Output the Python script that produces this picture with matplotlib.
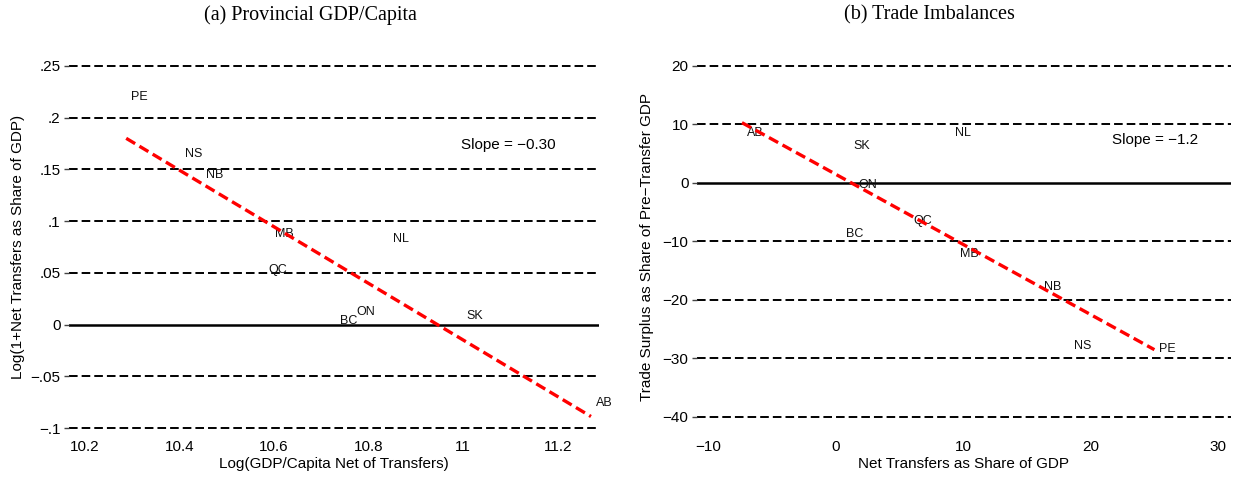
import numpy as np
import matplotlib
matplotlib.use("Agg")
import matplotlib.pyplot as plt

plt.rcParams['font.family'] = ['Liberation Sans', 'DejaVu Sans']
plt.rcParams['lines.scale_dashes'] = False

# provinces and values
prov_a = ['PE', 'NS', 'NB', 'MB', 'NL', 'QC', 'BC', 'ON', 'SK', 'AB']
gdp_a = [10.287, 10.401, 10.446, 10.591, 10.841, 10.577, 10.729, 10.764, 10.997, 11.270]
transfers_a = [0.220, 0.165, 0.145, 0.088, 0.083, 0.053, 0.003, 0.012, 0.008, -0.076]
fit_a = (-0.2735, 2.9935)   # slope, intercept of the fitted line

prov_b = ['AB', 'SK', 'NL', 'ON', 'QC', 'BC', 'MB', 'NB', 'NS', 'PE']
transfers_b = [-7.33, 1.03, 8.98, 1.40, 5.73, 0.43, 9.37, 15.93, 18.34, 25.0]
surplus_b = [8.6, 6.25, 8.6, -0.3, -6.55, -8.7, -12.1, -17.8, -27.8, -28.3]
fit_b = (-1.2, 1.5)

yticks_a = [-0.1, -0.05, 0, 0.05, 0.1, 0.15, 0.2, 0.25]
ylabels_a = ['\u2212.1', '\u2212.05', '0', '.05', '.1', '.15', '.2', '.25']
xticks_a = [10.2, 10.4, 10.6, 10.8, 11, 11.2]
xlabels_a = ['10.2', '10.4', '10.6', '10.8', '11', '11.2']

yticks_b = [-40, -30, -20, -10, 0, 10, 20]
ylabels_b = ['\u221240', '\u221230', '\u221220', '\u221210', '0', '10', '20']
xticks_b = [-10, 0, 10, 20, 30]
xlabels_b = ['\u221210', '0', '10', '20', '30']

fig = plt.figure(figsize=(12.43, 4.8), dpi=100)
ax_a = fig.add_axes([0.0555, 0.091, 0.4264, 0.789])
ax_b = fig.add_axes([0.5607, 0.091, 0.4296, 0.789])


def style_axis(ax, yticks, ylabels, xticks, xlabels):
    for s in ax.spines.values():
        s.set_visible(False)
    ax.set_yticks(yticks)
    ax.set_yticklabels(ylabels)
    ax.set_xticks(xticks)
    ax.set_xticklabels(xlabels)
    ax.tick_params(axis='y', length=3.6, width=1.0, color='#444444', pad=2.5, labelsize=11)
    ax.tick_params(axis='x', length=0, pad=3, labelsize=11)
    for y in yticks:
        if y == 0:
            continue
        ax.axhline(y, color='black', lw=1.4, dashes=(6.2, 2.9), zorder=1)
    ax.axhline(0, color='black', lw=1.8, zorder=1)


def draw_panel(ax, names, xs, ys, fit, slope_text, slope_pos):
    for name, x, y in zip(names, xs, ys):
        ax.annotate(name, xy=(x, y), xytext=(3.5, 0), textcoords='offset points',
                    ha='left', va='center', fontsize=9, color='#111111', zorder=2)
    fx = np.array([min(xs), max(xs)])
    ax.plot(fx, fit[0] * fx + fit[1], color='red', lw=2.4, dashes=(7.5, 3.6), zorder=3)
    ax.text(slope_pos[0], slope_pos[1], slope_text, ha='left', va='center', fontsize=11)


style_axis(ax_a, yticks_a, ylabels_a, xticks_a, xlabels_a)
draw_panel(ax_a, prov_a, gdp_a, transfers_a, fit_a, 'Slope = \u22120.30', (10.996, 0.174))
ax_a.set_xlim(10.166, 11.287)
ax_a.set_ylim(-0.108, 0.258)
ax_a.set_xlabel('Log(GDP/Capita Net of Transfers)', fontsize=11)
ax_a.set_ylabel('Log(1+Net Transfers as Share of GDP)', fontsize=11)
ax_a.xaxis.set_label_coords(0.5, -0.055)
ax_a.yaxis.set_label_coords(-0.083, 0.5)

style_axis(ax_b, yticks_b, ylabels_b, xticks_b, xlabels_b)
draw_panel(ax_b, prov_b, transfers_b, surplus_b, fit_b, 'Slope = \u22121.2', (21.66, 7.4))
ax_b.set_xlim(-10.86, 31.0)
ax_b.set_ylim(-43.31, 21.42)
ax_b.set_xlabel('Net Transfers as Share of GDP', fontsize=11)
ax_b.set_ylabel('Trade Surplus as Share of Pre\u2212Transfer GDP', fontsize=11)
ax_b.xaxis.set_label_coords(0.5, -0.055)
ax_b.yaxis.set_label_coords(-0.0805, 0.5)

fig.text(0.25, 0.969, '(a) Provincial GDP/Capita', ha='center', va='center',
         fontsize=14.5, family='Liberation Serif')
fig.text(0.748, 0.969, '(b) Trade Imbalances', ha='center', va='center',
         fontsize=14.5, family='Liberation Serif')

fig.savefig('out.png', dpi=100)
